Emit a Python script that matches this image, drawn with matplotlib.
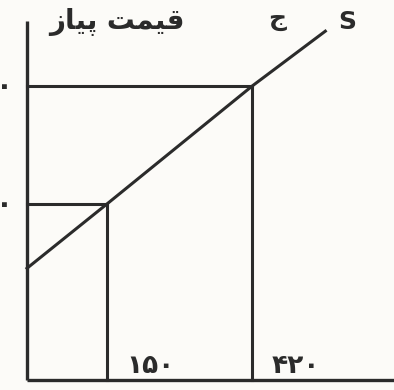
import matplotlib.pyplot as plt

# market point: quantity sold and price of onions
quantity = [150, 420]
price = [30, 50]
quantity_labels = ['۱۵۰', '۴۲۰']
price_labels = ['۳۰', '۵۰']

# supply curve S
supply_q = [0, 150, 420, 556]
supply_p = [19, 30, 50, 59.3]

# "قیمت پیاز" in visual order with joined letter forms
y_title = '\uFEAF\uFE8E\uFEF4\uFB58 \uFE96\uFEE4\uFEF4\uFED7'

plt.rcParams['font.family'] = ['DejaVu Sans']
ink = '#2b2b2b'
paper = '#fcfbf8'

fig = plt.figure(figsize=(3.94, 3.90), dpi=100, facecolor=paper)
ax = fig.add_axes([0, 0, 1, 1])
ax.set_facecolor(paper)
ax.set_xlim(-50.3, 684)
ax.set_ylim(-1.69, 64.6)
ax.axis('off')

# axes
ax.plot([0, 0], [0, 61], color=ink, lw=2.4, solid_capstyle='butt')
ax.plot([0, 684], [0, 0], color=ink, lw=2.4, solid_capstyle='butt')

# guide lines to each point
for q, p in zip(quantity, price):
    ax.plot([0, q], [p, p], color=ink, lw=2.2)
    ax.plot([q, q], [0, p], color=ink, lw=2.2)

ax.plot(supply_q, supply_p, color=ink, lw=2.2)

for q, lab in zip(quantity, quantity_labels):
    ax.text(q + 36, 2.4, lab, ha='left', va='center', fontsize=19,
            fontweight='bold', color=ink)
for p, lab in zip(price, price_labels):
    ax.text(-26, p, lab, ha='right', va='center', fontsize=20,
            fontweight='bold', color=ink)

ax.text(294, 60.8, y_title, ha='right', va='center', fontsize=20,
        fontweight='bold', color=ink)
ax.text(466, 61.4, 'ج', ha='center', va='center', fontsize=18,
        fontweight='bold', color=ink)
ax.text(597, 60.9, 'S', ha='center', va='center', fontsize=18,
        fontweight='bold', color=ink)

fig.savefig('out.png', dpi=100, facecolor=fig.get_facecolor())
